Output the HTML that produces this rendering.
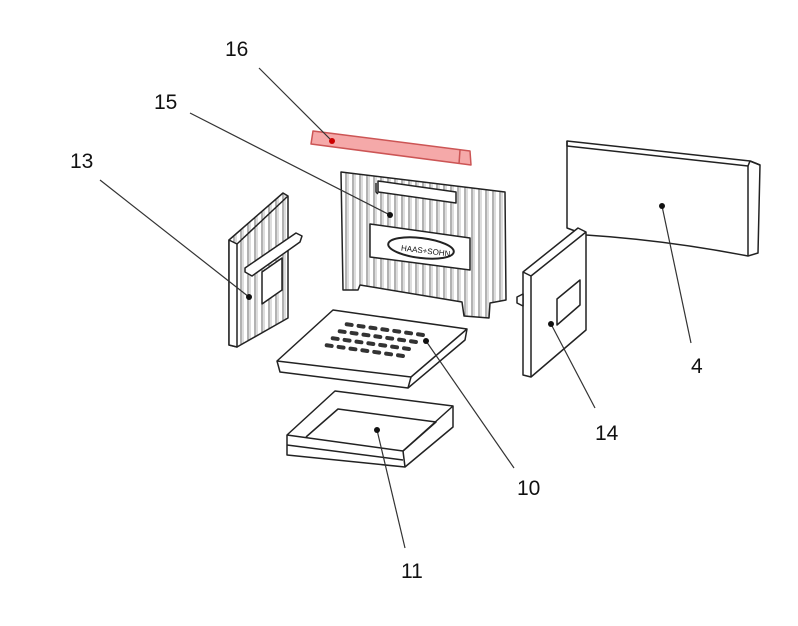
<!DOCTYPE html>
<html><head><meta charset="utf-8"><style>
html,body{margin:0;padding:0;background:#fff;}
svg{display:block;}
text{font-family:"Liberation Sans",sans-serif;font-size:21px;fill:#111;}
</style></head><body>
<svg width="798" height="626" viewBox="0 0 798 626" xmlns="http://www.w3.org/2000/svg">
<defs>
<pattern id="ribs" width="7" height="10" patternUnits="userSpaceOnUse">
<rect width="7" height="10" fill="#fff"/><line x1="3" y1="0" x2="3" y2="10" stroke="#666" stroke-width="1"/><line x1="5" y1="0" x2="5" y2="10" stroke="#aaa" stroke-width="0.8"/>
</pattern>
</defs>
<g fill="none" stroke="#222" stroke-width="1.5" stroke-linejoin="round">
<!-- Part 4 -->
<path d="M567,141 L750,161 L760,165 L758,253 L748,256 Q665,240 586,235 L567,228 Z" fill="#fff"/>
<path d="M567,141 L567,146 L748,166 L750,161" />
<path d="M748,166 L748,256 M750,161 L760,165" />
<!-- Part 14 -->
<path d="M523,272 L578,228 L586,232 L586,330 L531,377 L523,375 Z" fill="#fff"/>
<path d="M523,272 L531,276 L586,232 M531,276 L531,377"/>
<path d="M557,299 L580,280 L580,305 L557,325 Z" fill="#fff"/>
<path d="M517,297 L523,294 L523,306 L517,303Z" fill="#fff"/>
<!-- Part 16 -->
<path d="M313,131 L470,151 L471,165 L311,144 Z" fill="#f5a9a9" stroke="#c55"/>
<line x1="460" y1="150" x2="459" y2="164" stroke="#c55"/>
<!-- Part 15 -->
<path d="M341,172 L505,192 L506,300 L490,303 L489,318 L464,316 L462,302 L360,285 L358,290 L343,290 Z" fill="url(#ribs)"/>
<path d="M378,181 L456,192 L456,203 L378,192 Z" fill="#fff"/>
<path d="M376,183 L376,192 L378,194" />
<path d="M370,224 L470,238 L470,270 L370,257 Z" fill="#fff"/>
<ellipse cx="421" cy="248" rx="33" ry="10" transform="rotate(7 421 248)" fill="#fff" stroke-width="2"/>
<!-- Part 13 -->
<path d="M229,240 L283,193 L288,196 L288,318 L237,347 L229,345 Z" fill="url(#ribs)"/>
<path d="M229,240 L237,244 L237,347 L229,345 Z" fill="#fff"/>
<path d="M237,244 L288,196" />
<path d="M245,268 L296,233 L302,236 L300,242 L252,276 L245,272 Z" fill="#fff"/>
<path d="M262,272 L282,258 L282,290 L262,304 Z" fill="#fff"/>
<!-- Part 10 -->
<path d="M277,361 L333,310 L467,329 L465,340 L408,388 L280,372 Z" fill="#fff"/>
<path d="M277,361 L411,377 L467,329 M411,377 L408,388"/>
<!-- Part 11 -->
<path d="M287,435 L335,391 L453,406 L453,427 L405,467 L287,455 Z" fill="#fff"/>
<path d="M287,435 L403,451 L453,406 M403,451 L405,467 M287,445 L403,460"/>
<path d="M306,437 L338,409 L436,422 L403,451"/>
</g>
<!-- grate slots -->
<g fill="#333">
<g transform="translate(345,322) rotate(8)">
<rect x="0" y="0" width="9" height="4" rx="2"/><rect x="12" y="0" width="9" height="4" rx="2"/><rect x="24" y="0" width="9" height="4" rx="2"/><rect x="36" y="0" width="9" height="4" rx="2"/><rect x="48" y="0" width="9" height="4" rx="2"/><rect x="60" y="0" width="9" height="4" rx="2"/><rect x="72" y="0" width="9" height="4" rx="2"/>
</g>
<g transform="translate(338,329) rotate(8)">
<rect x="0" y="0" width="9" height="4" rx="2"/><rect x="12" y="0" width="9" height="4" rx="2"/><rect x="24" y="0" width="9" height="4" rx="2"/><rect x="36" y="0" width="9" height="4" rx="2"/><rect x="48" y="0" width="9" height="4" rx="2"/><rect x="60" y="0" width="9" height="4" rx="2"/><rect x="72" y="0" width="9" height="4" rx="2"/>
</g>
<g transform="translate(331,336) rotate(8)">
<rect x="0" y="0" width="9" height="4" rx="2"/><rect x="12" y="0" width="9" height="4" rx="2"/><rect x="24" y="0" width="9" height="4" rx="2"/><rect x="36" y="0" width="9" height="4" rx="2"/><rect x="48" y="0" width="9" height="4" rx="2"/><rect x="60" y="0" width="9" height="4" rx="2"/><rect x="72" y="0" width="9" height="4" rx="2"/>
</g>
<g transform="translate(325,343) rotate(8)">
<rect x="0" y="0" width="9" height="4" rx="2"/><rect x="12" y="0" width="9" height="4" rx="2"/><rect x="24" y="0" width="9" height="4" rx="2"/><rect x="36" y="0" width="9" height="4" rx="2"/><rect x="48" y="0" width="9" height="4" rx="2"/><rect x="60" y="0" width="9" height="4" rx="2"/><rect x="72" y="0" width="9" height="4" rx="2"/>
</g>
</g>
<text x="401" y="253" style="font-size:8px" transform="rotate(7 421 250)">HAAS+SOHN</text>
<!-- leaders -->
<g stroke="#333" stroke-width="1.2">
<line x1="259" y1="68" x2="332" y2="141"/>
<line x1="190" y1="113" x2="390" y2="215"/>
<line x1="100" y1="180" x2="249" y2="297"/>
<line x1="426" y1="341" x2="514" y2="468"/>
<line x1="377" y1="430" x2="405" y2="548"/>
<line x1="551" y1="324" x2="595" y2="408"/>
<line x1="662" y1="206" x2="691" y2="343"/>
</g>
<g fill="#111">
<circle cx="332" cy="141" r="3" fill="#c00"/>
<circle cx="390" cy="215" r="3"/>
<circle cx="249" cy="297" r="3"/>
<circle cx="426" cy="341" r="3"/>
<circle cx="377" cy="430" r="3"/>
<circle cx="551" cy="324" r="3"/>
<circle cx="662" cy="206" r="3"/>
</g>
<text x="225" y="56">16</text>
<text x="154" y="109">15</text>
<text x="70" y="168">13</text>
<text x="691" y="373">4</text>
<text x="595" y="440">14</text>
<text x="517" y="495">10</text>
<text x="401" y="578">11</text>
</svg>
</body></html>
